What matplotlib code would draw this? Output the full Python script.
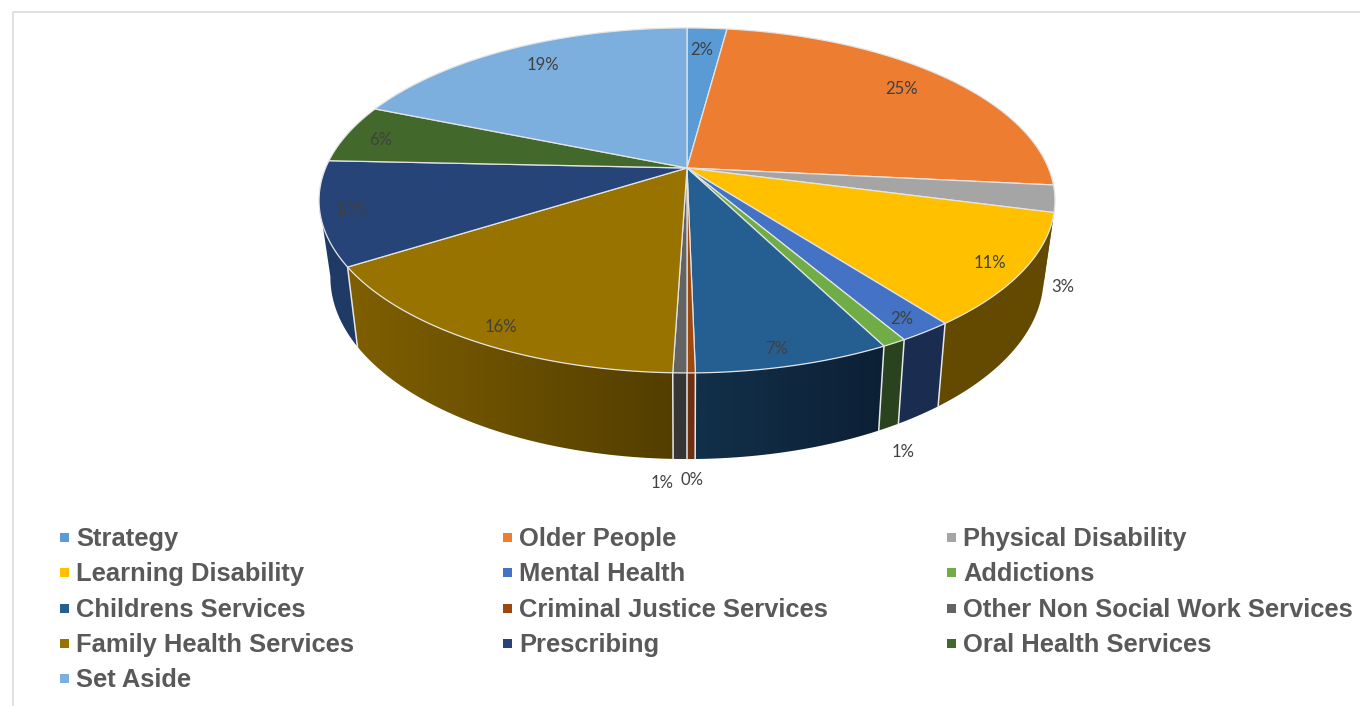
import numpy as np
import matplotlib
matplotlib.use("Agg")
import matplotlib.pyplot as plt
from matplotlib.colors import to_rgb
from matplotlib.patches import Polygon, Rectangle

categories = ["Strategy", "Older People", "Physical Disability",
              "Learning Disability", "Mental Health", "Addictions",
              "Childrens Services", "Criminal Justice Services", "Other Non Social Work Services",
              "Family Health Services", "Prescribing", "Oral Health Services",
              "Set Aside"]
shares = [2.1, 24.51, 2.51, 10.51, 2.0, 0.9, 7.2, 0.3, 0.51, 15.51, 9.7, 5.51, 18.8]

top_colors = ["#5b9bd5", "#ed7d31", "#a5a5a5", "#ffc000", "#4472c4", "#70ad47", "#255e91",
              "#9e480e", "#636363", "#997300", "#264478", "#43682b", "#7cafdd"]
# wall shading of each slice, as the colour at its left and right ends
wall_left = ["#2d4e6b", "#774018", "#525252", "#634a00", "#1a2d50", "#2a431f", "#123049",
             "#6f3010", "#363636", "#7f5f00", "#1f3a66", "#2a431f", "#3e5870"]
wall_right = ["#2d4e6b", "#774018", "#525252", "#634a00", "#1a2d50", "#2a431f", "#0c2035",
              "#6f3010", "#363636", "#533e00", "#1f3a66", "#2a431f", "#3e5870"]

# pixel spot of each percent label
label_xy = [(702, 48), (901, 87), (1063, 285), (990, 261), (902, 317), (903, 450), (777, 347),
            (692, 478), (662, 481), (501, 325), (351, 208), (381, 138), (543, 63)]

legend_x = [60, 503, 947]
legend_y = [537, 572, 608, 643, 678]


# perspective view of the unit circle, theta is clockwise from the back
def project(theta, a, b, k, cy):
    u = np.sin(theta)
    v = np.cos(theta)
    w = 1 + k * v
    return np.column_stack((687 + a * u / w, cy - b * v / w))


def top_rim(theta):
    return project(theta, 361.4, 166.4, 0.188, 168)


def bottom_rim(theta):
    return project(theta, 349.9, 175.0, 0.193, 242.2)


fig = plt.figure(figsize=(13.6, 7.06), dpi=100)
ax = fig.add_axes([0, 0, 1, 1])
ax.axis("off")

# chart frame
ax.plot([13, 13, 1360], [706, 12, 12], color="#dcdcdc", lw=1.2, zorder=1)

edges = 2 * np.pi * np.concatenate(([0], np.cumsum(shares))) / np.sum(shares)

# walls, one gradient per slice, only between the two silhouette angles
side_a = np.arccos(-0.19)
side_b = 2 * np.pi - side_a
for i in range(len(shares)):
    t0 = max(edges[i], side_a)
    t1 = min(edges[i + 1], side_b)
    if t0 >= t1:
        continue
    t = np.linspace(t0, t1, 120)
    outline = np.vstack((top_rim(t), bottom_rim(t)[::-1]))
    patch = Polygon(outline, closed=True, facecolor="none", edgecolor="none")
    ax.add_patch(patch)
    shade = np.linspace(to_rgb(wall_left[i]), to_rgb(wall_right[i]), 256)[np.newaxis, :, :]
    x0, x1 = outline[:, 0].min(), outline[:, 0].max()
    y0, y1 = outline[:, 1].min(), outline[:, 1].max()
    im = ax.imshow(shade, extent=(x0, x1, y1, y0), aspect="auto", interpolation="bilinear", zorder=2)
    im.set_clip_path(patch)

# white separators between the walls seen from the front
for e in edges:
    if np.cos(e) < -0.4:
        a = top_rim(np.array([e]))[0]
        b = bottom_rim(np.array([e]))[0]
        ax.plot([a[0], b[0]], [a[1], b[1]], color="#e6e6e6", lw=1.1, zorder=3)

# top face
for i in range(len(shares)):
    t = np.linspace(edges[i], edges[i + 1], 120)
    pts = np.vstack(([[687, 168]], top_rim(t)))
    ax.add_patch(Polygon(pts, closed=True, facecolor=top_colors[i], edgecolor="#e4e4e4",
                         lw=0.9, joinstyle="round", zorder=4))

for value, (x, y) in zip(shares, label_xy):
    ax.text(x, y + 2, f"{value:.0f}%", ha="center", va="center", fontsize=12, family="Lato",
            color="#404040", zorder=5)

# legend, filled row by row
for i, name in enumerate(categories):
    x = legend_x[i % 3]
    y = legend_y[i // 3]
    ax.add_patch(Rectangle((x, y - 4.5), 9, 9, facecolor=top_colors[i], edgecolor="none", zorder=5))
    ax.text(x + 16, y + 2, name, ha="left", va="center", fontsize=18.4, fontweight="bold",
            family="Liberation Sans", color="#595959", zorder=5)

ax.set_xlim(0, 1360)
ax.set_ylim(706, 0)

fig.savefig("out.png", dpi=100)
